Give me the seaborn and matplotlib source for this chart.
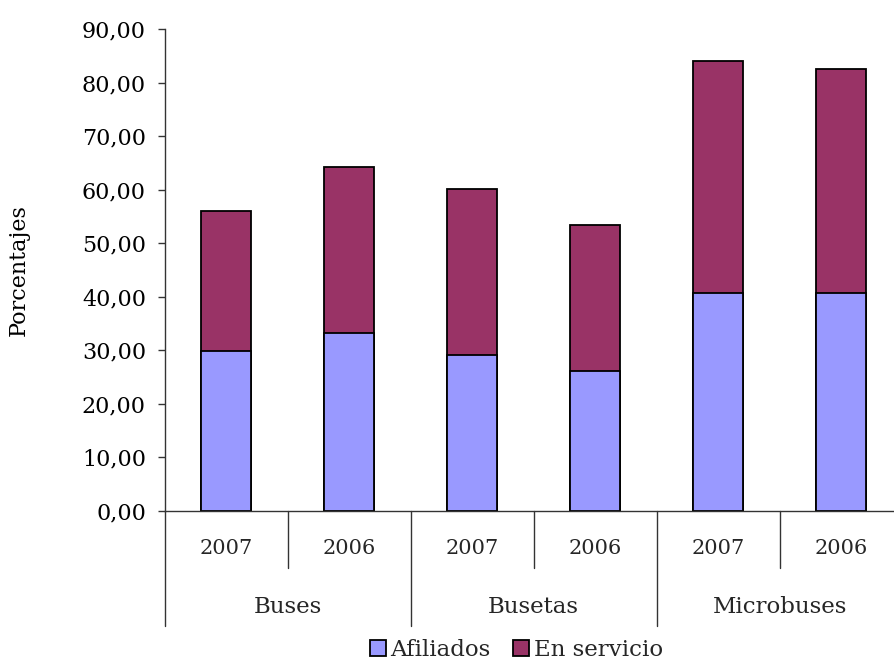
import matplotlib
matplotlib.use("Agg")
import matplotlib.pyplot as plt
import matplotlib.transforms as mtransforms
from matplotlib.patches import Patch
import pandas as pd
import seaborn as sns

# datos
grupos = ["Buses", "Busetas", "Microbuses"]
anios = ["2007", "2006"]
afiliados = [29.9, 33.2, 29.1, 26.1, 40.7, 40.7]
en_servicio = [26.1, 31.0, 31.1, 27.3, 43.3, 41.8]
yticks = [0, 10, 20, 30, 40, 50, 60, 70, 80, 90]
ytick_labels = ["0,00", "10,00", "20,00", "30,00", "40,00", "50,00",
                "60,00", "70,00", "80,00", "90,00"]

df = pd.DataFrame({
    "grupo": [g for g in grupos for a in anios],
    "anio": anios * len(grupos),
    "afiliados": afiliados,
    "en_servicio": en_servicio,
})
df["barra"] = df["grupo"] + " " + df["anio"]
df["total"] = df["afiliados"] + df["en_servicio"]

sns.set_theme(style="ticks")
plt.rcParams["font.family"] = ["DejaVu Serif"]

col_afil = "#9999FF"
col_serv = "#993366"

fig = plt.figure(figsize=(8.95, 6.62), dpi=100)
ax = fig.add_axes([0.184, 0.2285, 0.8246, 0.7277])

# barras apiladas: total (en servicio arriba) y afiliados encima
sns.barplot(data=df, x="barra", y="total", color=col_serv, saturation=1,
            width=0.41, edgecolor="black", linewidth=1.3, errorbar=None, ax=ax)
sns.barplot(data=df, x="barra", y="afiliados", color=col_afil, saturation=1,
            width=0.41, edgecolor="black", linewidth=1.3, errorbar=None, ax=ax)

ax.set_xlim(-0.5, 5.5)
ax.set_ylim(0, 90)
ax.set_yticks(yticks, ytick_labels, fontsize=16)
ax.tick_params(axis="y", length=5, width=1, pad=8.5, colors="#333333", labelcolor="black")
ax.set_xticks([])
ax.set_xlabel("")
ax.set_ylabel("Porcentajes", fontsize=16, color="black")
ax.yaxis.set_label_coords(-0.1825, 0.5)
sns.despine(ax=ax)
for s in ["left", "bottom"]:
    ax.spines[s].set_color("#333333")
    ax.spines[s].set_linewidth(1)

# etiquetas jerarquicas del eje x
trans = mtransforms.blended_transform_factory(ax.transData, ax.transAxes)
for i, a in enumerate(df["anio"]):
    ax.text(i, -0.078, a, transform=trans, ha="center", va="center", fontsize=15)
for j, g in enumerate(grupos):
    ax.text(2 * j + 0.5, -0.200, g, transform=trans, ha="center", va="center", fontsize=16.5)
    ax.plot([2 * j + 0.5, 2 * j + 0.5], [0, -0.119], transform=trans,
            color="#333333", lw=1, clip_on=False)
    ax.plot([2 * j - 0.5, 2 * j - 0.5], [0, -0.239], transform=trans,
            color="#333333", lw=1, clip_on=False)

handles = [Patch(facecolor=col_afil, edgecolor="black", linewidth=1.3, label="Afiliados"),
           Patch(facecolor=col_serv, edgecolor="black", linewidth=1.3, label="En servicio")]
fig.legend(handles=handles, loc="center", bbox_to_anchor=(0.577, 1 - 650 / 662),
           ncol=2, frameon=False, fontsize=16.5, handlelength=0.7, handleheight=0.7,
           handletextpad=0.2, columnspacing=1.0, borderpad=0)

fig.savefig("out.png", dpi=100)
